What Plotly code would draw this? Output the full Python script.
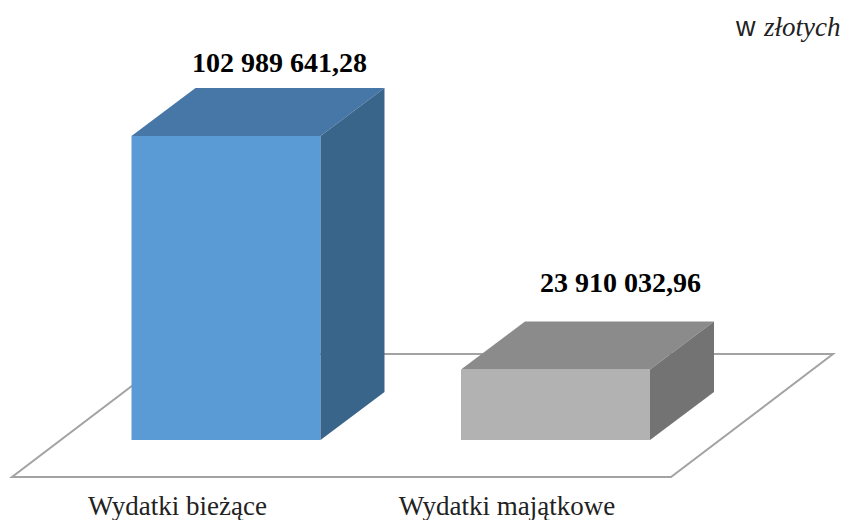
import plotly.graph_objects as go

categories = ["Wydatki bieżące", "Wydatki majątkowe"]
values = [102989641.28, 23910032.96]
value_labels = ["102 989 641,28", "23 910 032,96"]
unit_prefix = "w"
unit_name = "<i>złotych</i>"

front_colors = ["#5B9BD5", "#B2B2B2"]
top_colors = ["#4677A6", "#8B8B8B"]
side_colors = ["#3A658B", "#737373"]

W, H = 843, 520
MB = 33
X0_PX, DX_PX = 226.0, 329.5          # pixel of category 0, pixels per category
Y0_PX = 440.0                        # pixel of the value zero
K = values[0] / 304.0                # value units per pixel
px = lambda p: p / DX_PX             # horizontal pixels -> axis units
py = lambda p: p * K                 # vertical pixels -> axis units

xr = [px(0 - X0_PX), px(W - X0_PX)]
yr = [py(Y0_PX - (H - MB)), py(Y0_PX)]
bar_w = px(189)
dx, dy = px(64), py(48)

fig = go.Figure()
xs = list(range(len(values)))

fig.add_trace(go.Bar(x=xs, y=values, width=bar_w, marker=dict(color=front_colors, line=dict(width=0)),
                     hoverinfo="skip", showlegend=False))
for i, v in zip(xs, values):
    l, r = i - bar_w / 2, i + bar_w / 2
    fig.add_trace(go.Scatter(x=[l, r, r + dx, l + dx, l], y=[v, v, v + dy, v + dy, v], mode="lines",
                             fill="toself", fillcolor=top_colors[i], line=dict(width=0),
                             hoverinfo="skip", showlegend=False))
    fig.add_trace(go.Scatter(x=[r, r + dx, r + dx, r, r], y=[0, dy, v + dy, v, 0], mode="lines",
                             fill="toself", fillcolor=side_colors[i], line=dict(width=0),
                             hoverinfo="skip", showlegend=False))

# floor plane
fl, fr = px(12 - X0_PX), px(671 - X0_PX)
fb, fd = py(440 - 477), py(440 - 354)
fo = px(162)
floor_path = f"M {fl} {fb} L {fr} {fb} L {fr + fo} {fd} L {fl + fo} {fd} Z"
fig.add_shape(type="path", path=floor_path, xref="x", yref="y", layer="below",
              line=dict(color="#A3A3A3", width=2), fillcolor="white")

label_off = [(53, 74), (65, 87)]
for i, v in zip(xs, values):
    ox, oy = label_off[i]
    fig.add_annotation(x=i + px(ox), y=v + py(oy), text="<b>" + value_labels[i] + "</b>", showarrow=False,
                       font=dict(family="Liberation Serif", size=28, color="black"),
                       xanchor="center", yanchor="middle")
fig.add_annotation(xref="paper", yref="paper", x=840 / W, y=1 - 27 / (H - MB), text=unit_name,
                   showarrow=False, xanchor="right", yanchor="middle", xshift=2,
                   font=dict(family="Liberation Serif", size=27, color="#222222"))
fig.add_annotation(xref="paper", yref="paper", x=756 / W, y=1 - 27 / (H - MB), text=unit_prefix,
                   showarrow=False, xanchor="right", yanchor="middle", xshift=2,
                   font=dict(family="Liberation Sans", size=27, color="#222222"))

fig.update_xaxes(range=xr, tickmode="array", tickvals=[i + px(-48.5) for i in xs], ticktext=categories,
                 showgrid=False, zeroline=False, showline=False, ticks="", automargin=False,
                 tickfont=dict(family="Liberation Serif", size=27, color="#222222"))
fig.update_yaxes(range=yr, visible=False)
fig.update_layout(width=W, height=H, margin=dict(l=0, r=0, t=0, b=MB), plot_bgcolor="white",
                  paper_bgcolor="white", showlegend=False)
fig.write_html("out.html", config={"displayModeBar": False},
               post_script="document.body.style.margin='0';document.body.style.overflow='hidden';")
